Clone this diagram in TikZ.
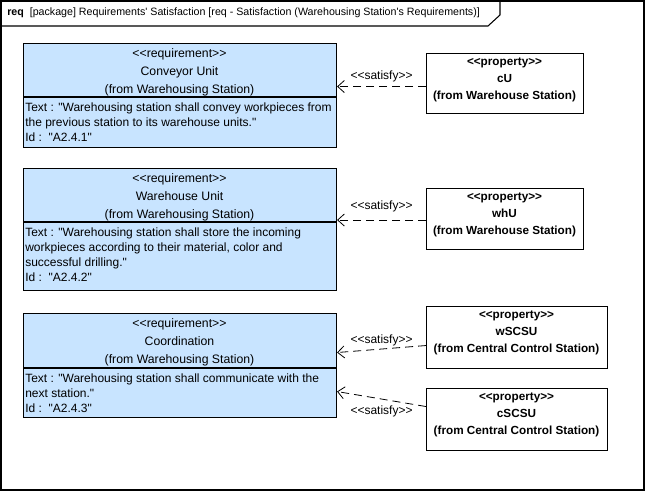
\documentclass[tikz,border=0pt]{standalone}
\usepackage{fontspec}
\setmainfont{Liberation Sans}[Ligatures=TeXOff]
\usetikzlibrary{arrows.meta}
\definecolor{reqblue}{RGB}{200,228,255}

\begin{document}
\begin{tikzpicture}[x=0.75pt,y=-0.75pt,
    reqbox/.style={draw,line width=0.8pt,fill=reqblue,anchor=north west,inner sep=0pt,minimum width=313*0.75pt},
    propbox/.style={draw,line width=0.8pt,anchor=north west,inner sep=0pt},
    reqtitle/.style={align=center,font=\fontsize{9.2}{13.5}\selectfont},
    reqtext/.style={align=left,anchor=north west,inner sep=0pt,font=\fontsize{9}{11.25}\selectfont},
    proptext/.style={align=center,font=\bfseries\fontsize{8.8}{12.75}\selectfont},
    satisfy/.style={line width=0.6pt,dash pattern=on 6pt off 3.75pt,-{Straight Barb[length=5pt,width=9pt]}},
    satlabel/.style={font=\fontsize{9}{10}\selectfont,inner sep=1pt}]
    \useasboundingbox (0,0) rectangle (646,492);
    % frame
    \draw[line width=0.8pt] (1,1) rectangle (644,490);
    \draw[line width=0.8pt] (1,26) -- (488,26) -- (500,15) -- (500,1);
    \node[anchor=west,inner sep=0pt,font=\fontsize{8}{10}\selectfont] (frametitle) at (7,13)
        {\textbf{req}\ \ [package] Requirements' Satisfaction [req - Satisfaction (Warehousing Station's Requirements)]};
    % requirements
    \node[reqbox,minimum height=104*0.75pt] (req1) at (23,43) {};
    \draw[line width=0.8pt] (23,97) -- (336,97);
    \node[reqtitle] at (179.5,72) {<<requirement>>\\Conveyor Unit\\(from Warehousing Station)};
    \node[reqtext] at (25,103) {Text : "Warehousing station shall convey workpieces from\\the previous station to its warehouse units."\\Id :\ \ "A2.4.1"};
    \node[reqbox,minimum height=122*0.75pt] (req2) at (23,168) {};
    \draw[line width=0.8pt] (23,222) -- (336,222);
    \node[reqtitle] at (179.5,197) {<<requirement>>\\Warehouse Unit\\(from Warehousing Station)};
    \node[reqtext] at (25,228) {Text : "Warehousing station shall store the incoming\\workpieces according to their material, color and\\successful drilling."\\Id :\ \ "A2.4.2"};
    \node[reqbox,minimum height=104*0.75pt] (req3) at (23,313) {};
    \draw[line width=0.8pt] (23,368) -- (336,368);
    \node[reqtitle] at (179.5,342) {<<requirement>>\\Coordination\\(from Warehousing Station)};
    \node[reqtext] at (25,374) {Text : "Warehousing station shall communicate with the\\next station."\\Id :\ \ "A2.4.3"};
    % properties
    \node[propbox,minimum width=157*0.75pt,minimum height=60*0.75pt] (cU) at (426,53) {};
    \node[proptext] at (504.5,80) {<<property>>\\cU\\(from Warehouse Station)};
    \node[propbox,minimum width=157*0.75pt,minimum height=61*0.75pt] (whU) at (426,188) {};
    \node[proptext] at (504.5,215) {<<property>>\\whU\\(from Warehouse Station)};
    \node[propbox,minimum width=181*0.75pt,minimum height=62*0.75pt] (wSCSU) at (426,306) {};
    \node[proptext] at (516.5,333) {<<property>>\\wSCSU\\(from Central Control Station)};
    \node[propbox,minimum width=181*0.75pt,minimum height=62*0.75pt] (cSCSU) at (426,388) {};
    \node[proptext] at (516.5,415) {<<property>>\\cSCSU\\(from Central Control Station)};
    % satisfy links
    \draw[satisfy] ([yshift=-2.25pt]cU.west) -- ([yshift=-2.25pt]cU.west -| req1.east)
        node[satlabel,midway,above=2pt] {<<satisfy>>};
    \draw[satisfy] ([yshift=-0.75pt]whU.west) -- ([yshift=-0.75pt]whU.west -| req2.east)
        node[satlabel,midway,above=5pt] {<<satisfy>>};
    \draw[satisfy] ([yshift=-6pt]wSCSU.west) -- ([yshift=9.75pt]req3.east)
        node[satlabel,midway,above=1pt] {<<satisfy>>};
    \draw[satisfy] ([yshift=9.75pt]cSCSU.west) -- ([yshift=-19.5pt]req3.east)
        node[satlabel,midway,below=4pt] {<<satisfy>>};
\end{tikzpicture}
\end{document}
